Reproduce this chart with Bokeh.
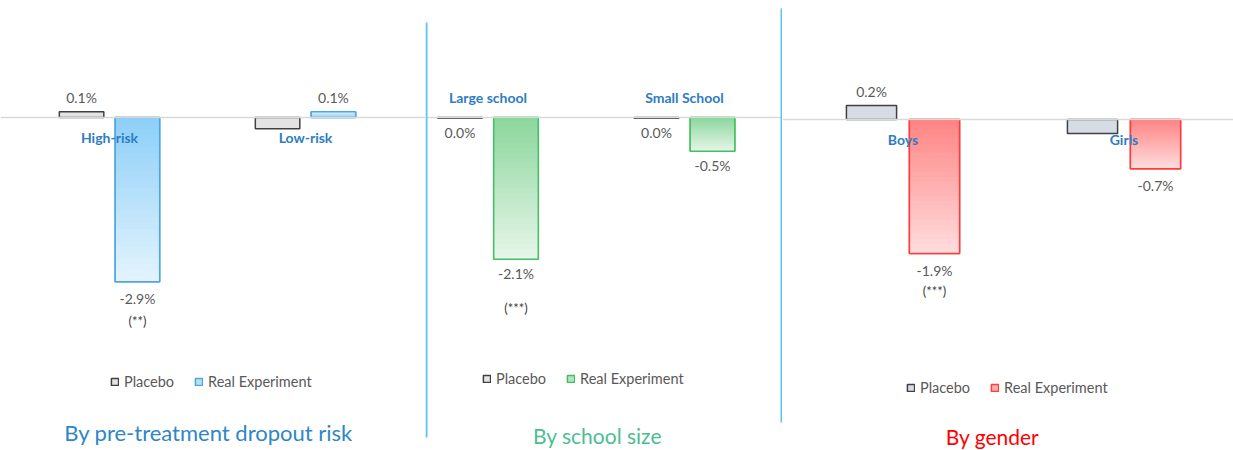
import numpy as np
from bokeh.plotting import figure
from bokeh.models import ColumnDataSource, Range1d, Span, Legend, LegendItem, Label, BoxAnnotation
from bokeh.layouts import row
from bokeh.embed import file_html
from bokeh.resources import INLINE
from bokeh.core.properties import value

# ---------------- data ----------------
series_names = ["Placebo", "Real Experiment"]

risk_groups = ["High-risk", "Low-risk"]
risk_placebo = [0.1, -0.2]
risk_real = [-2.9, 0.1]
risk_placebo_labels = ["0.1%", ""]
risk_real_labels = ["-2.9%", "0.1%"]
risk_sig = ["(**)", ""]

size_groups = ["Large school", "Small School"]
size_placebo = [-0.01, -0.01]
size_real = [-2.1, -0.5]
size_placebo_labels = ["0.0%", "0.0%"]
size_real_labels = ["-2.1%", "-0.5%"]
size_sig = ["(***)", ""]

gender_groups = ["Boys", "Girls"]
gender_placebo = [0.2, -0.2]
gender_real = [-1.9, -0.7]
gender_placebo_labels = ["0.2%", ""]
gender_real_labels = ["-1.9%", "-0.7%"]
gender_sig = ["(***)", ""]

panel_titles = ["By pre-treatment dropout risk", "By school size", "By gender"]

FONT = "Lato"
H = 450


def hex2rgb(h):
    h = h.lstrip("#")
    return tuple(int(h[i:i + 2], 16) for i in (0, 2, 4))


def mix(c1, c2, t):
    a, b = hex2rgb(c1), hex2rgb(c2)
    return "#%02x%02x%02x" % tuple(int(round(a[i] + (b[i] - a[i]) * t)) for i in range(3))


def make_panel(groups, placebo, real, plab, rlab, sig, title, c):
    W = c["width"]
    x0 = -c["c0"] / c["unit"]
    ytop = c["base"] / c["scale"]
    p = figure(width=W, height=H, x_range=Range1d(x0, x0 + W / c["unit"]),
               y_range=Range1d(ytop - H / c["scale"], ytop),
               output_backend="svg", toolbar_location=None, min_border=0)
    p.axis.visible = False
    p.grid.visible = False
    p.outline_line_color = None
    p.background_fill_color = "white"
    p.border_fill_color = "white"

    p.add_layout(Span(location=0, dimension="width", line_color="#D9D9D9", line_width=1.5))

    idx = np.arange(len(groups))
    off, bw = 0.1425, 0.227
    xp = idx - off
    xr = idx + off

    pl = p.vbar(x=xp, top=placebo, bottom=0, width=bw, fill_color=c["pfill"],
                line_color="#404040", line_width=1.5)

    # real experiment bars with a soft gradient (lighter away from the axis)
    rl = p.vbar(x=xr, top=real, bottom=0, width=bw, fill_color=mix(c["light"], c["dark"], 0.55),
                line_color=c["border"], line_width=1.5)
    N = 28
    gx, gt, gc = [], [], []
    for k in range(N):
        f = 1 - k / N
        col = mix(c["light"], c["dark"], k / (N - 1))
        for i, v in enumerate(real):
            gx.append(xr[i]); gt.append(v * f); gc.append(col)
    p.vbar(x="x", top="t", bottom=0, width=bw, fill_color="c", line_color=None,
           source=ColumnDataSource(dict(x=gx, t=gt, c=gc)))
    p.vbar(x=xr, top=real, bottom=0, width=bw, fill_alpha=0,
           line_color=c["border"], line_width=1.5)

    # value labels
    def yoff(vals):
        return [-14 if v > 0 else c["below"] for v in vals]

    p.text(x=xp, y=placebo, text=plab, y_offset=yoff(placebo), text_align="center",
           text_baseline="middle", text_font=value(FONT), text_font_size="14px",
           text_color="#595959")
    p.text(x=xr, y=real, text=rlab, y_offset=yoff(real), text_align="center",
           text_baseline="middle", text_font=value(FONT), text_font_size="14px",
           text_color="#595959")
    p.text(x=xr, y=real, text=sig, y_offset=c["sig"], text_align="center",
           text_baseline="middle", text_font=value(FONT), text_font_size="13px",
           text_color="#404040")

    # category labels
    p.text(x=idx, y=[0] * len(groups), text=groups, y_offset=c["cat"], text_align="center",
           text_baseline="middle", text_font=value(FONT), text_font_size="14px",
           text_font_style="bold", text_color="#2E7CC2")

    leg = Legend(items=[LegendItem(label=series_names[0], renderers=[pl]),
                        LegendItem(label=series_names[1], renderers=[rl])],
                 orientation="horizontal", location=c["leg"], padding=0, margin=0,
                 spacing=20, label_standoff=5, glyph_width=9, glyph_height=9,
                 border_line_alpha=0, background_fill_alpha=0,
                 label_text_font=FONT, label_text_font_size="14.5px",
                 label_text_color="#595959")
    p.add_layout(leg)

    p.add_layout(Label(x=c["tx"], y=H - c["ty"], x_units="screen", y_units="screen",
                       text=title, text_align="center", text_baseline="middle",
                       text_font=FONT, text_font_size=c["tsize"], text_color=c["tcol"]))
    return p


p1 = make_panel(risk_groups, risk_placebo, risk_real, risk_placebo_labels, risk_real_labels,
                risk_sig, panel_titles[0],
                dict(width=425, unit=196, c0=109, base=117, scale=56.6,
                     pfill="#E3E3E3", light="#E2F3FD", dark="#8ED0F8", border="#4DA6E0",
                     below=17, sig=39, cat=20, leg=(110, 60), tx=208, ty=432,
                     tsize="22px", tcol="#2E86C8"))
p2 = make_panel(size_groups, size_placebo, size_real, size_placebo_labels, size_real_labels,
                size_sig, panel_titles[1],
                dict(width=357, unit=196.5, c0=62.5, base=117, scale=67.5,
                     pfill="#E3E3E3", light="#E5F5E8", dark="#8DD79E", border="#44BF63",
                     below=14, sig=49, cat=-20, leg=(57, 63), tx=172, ty=435,
                     tsize="21px", tcol="#4DBD92"))
p3 = make_panel(gender_groups, gender_placebo, gender_real, gender_placebo_labels,
                gender_real_labels, gender_sig, panel_titles[2],
                dict(width=451, unit=221, c0=120.5, base=119, scale=70.5,
                     pfill="#D6DCE4", light="#FFDCDC", dark="#FF8585", border="#FF3B3B",
                     below=17, sig=38, cat=20, leg=(124, 54), tx=210, ty=436,
                     tsize="21px", tcol="#FF0000"))

# separators between the panels (drawn in the middle panel)
yt2 = 117 / 67.5
p2.add_layout(BoxAnnotation(left=0, right=2, left_units="screen", right_units="screen",
                            top=yt2 - 22 / 67.5, bottom=yt2 - 437 / 67.5,
                            fill_color="#5BC4F0", fill_alpha=1, line_color=None))
p2.add_layout(BoxAnnotation(left=355, right=357, left_units="screen", right_units="screen",
                            top=yt2 - 8 / 67.5, bottom=yt2 - 422 / 67.5,
                            fill_color="#5BC4F0", fill_alpha=1, line_color=None))

layout = row(p1, p2, p3, spacing=0)
open("out.html", "w").write(file_html(layout, INLINE))
